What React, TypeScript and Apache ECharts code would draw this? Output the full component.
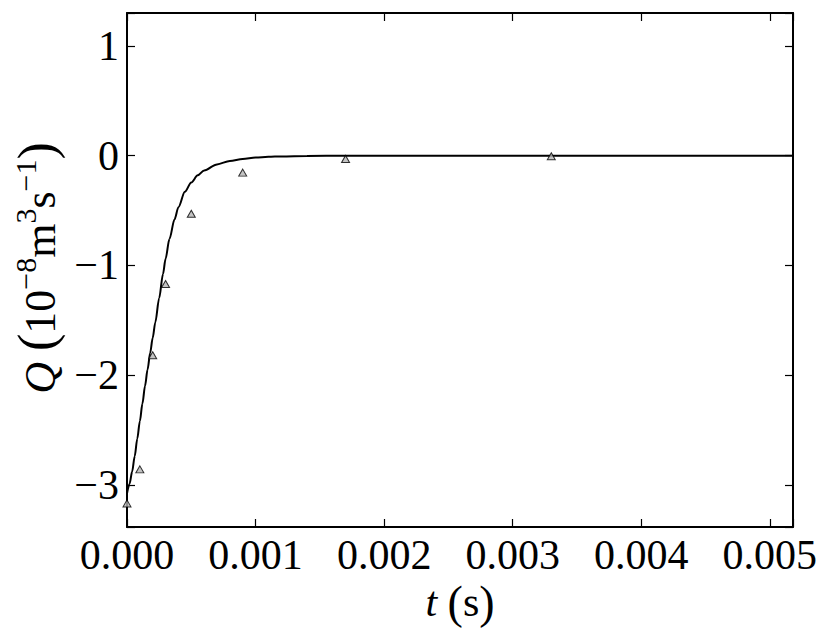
import React, { useEffect, useRef } from "react";
import * as echarts from "echarts";

// Measured data points (triangles)
const measT = [0, 0.0001, 0.0002, 0.0003, 0.0005, 0.0009, 0.0017, 0.0033];
const measQ = [-3.17, -2.86, -1.82, -1.17, -0.53, -0.155, -0.03, -0.005];

// Model curve
const curveT = [
  0, 0.00002, 0.00004, 0.00006, 0.00008, 0.0001, 0.00012, 0.00014, 0.00016,
  0.00018, 0.0002, 0.00022, 0.00025, 0.00028, 0.0003, 0.00033, 0.00037,
  0.0004, 0.00045, 0.0005, 0.00055, 0.0006, 0.0007, 0.0008, 0.0009, 0.001,
  0.0011, 0.0012, 0.0014, 0.0017, 0.002, 0.0052,
];
const curveQ = [
  -3.08, -2.99, -2.88, -2.74, -2.58, -2.42, -2.26, -2.1, -1.95, -1.8, -1.66,
  -1.52, -1.3, -1.08, -0.94, -0.76, -0.58, -0.47, -0.33, -0.245, -0.18,
  -0.135, -0.08, -0.048, -0.03, -0.018, -0.011, -0.007, -0.003, -0.001, 0, 0,
];

const X_MIN = 0;
const X_MAX = 0.00518;
const Y_MIN = -3.385;
const Y_MAX = 1.3;

const FONT = "'Liberation Serif', 'Times New Roman', Times, serif";

export default function App() {
  const ref = useRef<HTMLDivElement>(null);
  useEffect(() => {
    if (!ref.current) return;
    const chart = echarts.init(ref.current, null, { renderer: "svg" });
    const axisLine = { show: true, onZero: false, lineStyle: { color: "#000", width: 2 } };
    const axisTick = { show: true, inside: true, length: 8, lineStyle: { color: "#000", width: 1.2 } };
    const xFmt = (v: number) =>
      Math.abs(v * 1000 - Math.round(v * 1000)) < 1e-6 ? v.toFixed(3) : "";
    const yFmt = (v: number) => {
      const r = Math.round(v);
      if (Math.abs(v - r) > 1e-6) return "";
      return r < 0 ? "\u2212" + Math.abs(r) : String(r);
    };
    const labelStyle = { color: "#000", fontFamily: FONT, fontSize: 42 };
    const main = { fontFamily: FONT, fontSize: 44, color: "#000", lineHeight: 52, verticalAlign: "bottom" };
    const sup = { fontFamily: FONT, fontSize: 30, color: "#000", lineHeight: 30, verticalAlign: "top" };
    const par = { fontFamily: FONT, fontSize: 52, color: "#000", lineHeight: 52, verticalAlign: "bottom" };
    const mainX = { ...main, fontSize: 42, lineHeight: 38, verticalAlign: "middle" };
    const parX = { ...par, fontSize: 46, lineHeight: 38, verticalAlign: "middle" };
    chart.setOption({
      animation: false,
      backgroundColor: "#fff",
      grid: { left: 127, right: 37, top: 13, bottom: 110 },
      xAxis: [
        {
          type: "value", position: "bottom", min: X_MIN, max: X_MAX, splitNumber: 5,
          axisLine, axisTick, splitLine: { show: false },
          axisLabel: { ...labelStyle, lineHeight: 36, margin: 10, formatter: xFmt },
        },
        {
          type: "value", position: "top", min: X_MIN, max: X_MAX, splitNumber: 5,
          axisLine, axisTick, splitLine: { show: false }, axisLabel: { show: false },
        },
      ],
      yAxis: [
        {
          type: "value", position: "left", min: Y_MIN, max: Y_MAX, splitNumber: 5,
          axisLine, axisTick, splitLine: { show: false },
          axisLabel: { ...labelStyle, margin: 8, formatter: yFmt },
        },
        {
          type: "value", position: "right", min: Y_MIN, max: Y_MAX, splitNumber: 5,
          axisLine, axisTick, splitLine: { show: false }, axisLabel: { show: false },
        },
      ],
      graphic: [
        {
          type: "text", x: 36, y: 268, rotation: Math.PI / 2,
          style: {
            text: "{q|Q }{p|(}{n|10}{s|\u22128}{n|m}{s|3}{n|s}{s|\u22121}{p|)}",
            align: "center", verticalAlign: "middle",
            rich: { q: { ...main, fontStyle: "italic" }, n: main, s: sup, p: par },
          },
        },
        {
          type: "text", x: 460, y: 602,
          style: {
            text: "{t|t }{p|(}{n|s}{p|)}",
            align: "center", verticalAlign: "middle",
            rich: {
              t: { ...mainX, fontStyle: "italic" },
              n: mainX,
              p: parX,
            },
          },
        },
      ],
      series: [
        {
          type: "line",
          data: curveT.map((t, i) => [t, curveQ[i]]),
          showSymbol: false,
          smooth: 0.3,
          smoothMonotone: "x",
          lineStyle: { color: "#000", width: 2 },
          clip: true,
          z: 2,
        },
        {
          type: "scatter",
          data: measT.map((t, i) => [t, measQ[i]]),
          symbol: "triangle",
          symbolSize: [8, 7],
          itemStyle: { color: "#b4b4b4", borderColor: "#000", borderWidth: 1 },
          clip: true,
          z: 3,
        },
      ],
    });
    return () => chart.dispose();
  }, []);
  return (
    <div
      ref={ref}
      style={{ position: "fixed", left: 0, top: 0, width: 830, height: 637 }}
    />
  );
}
